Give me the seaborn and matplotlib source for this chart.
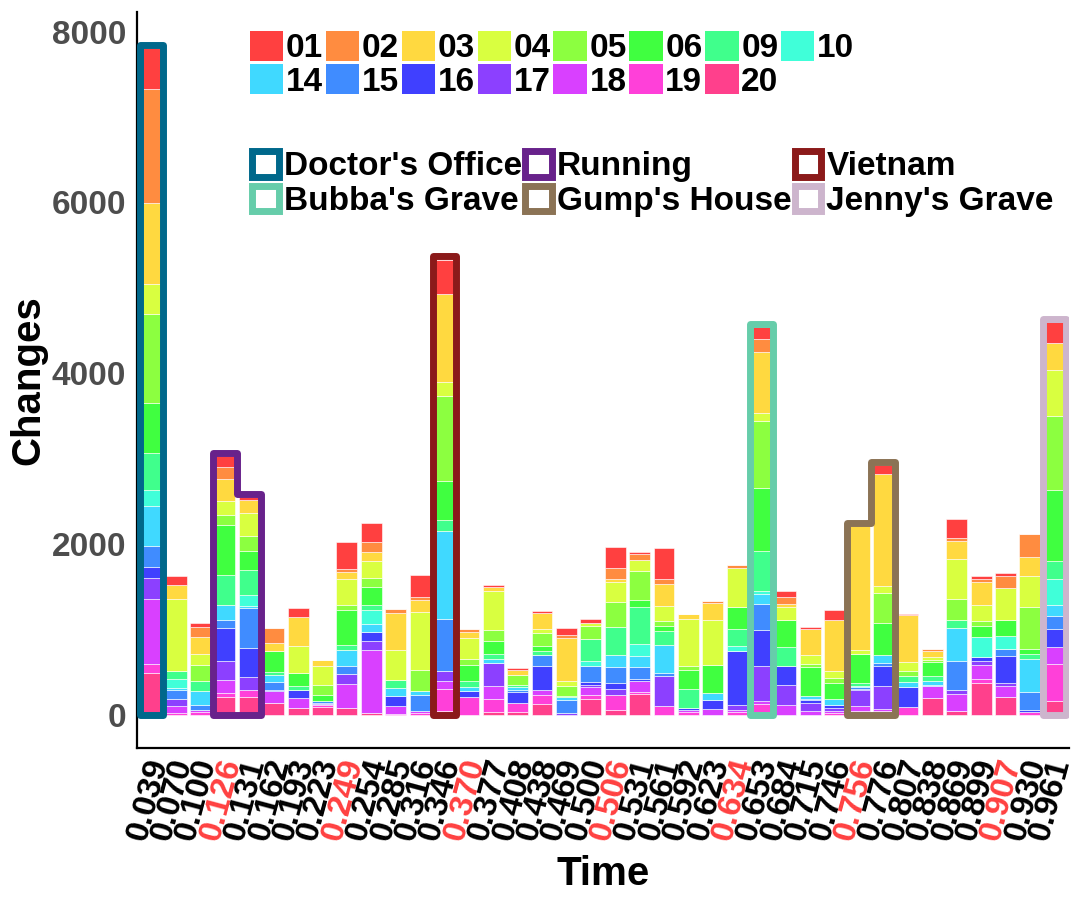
import numpy as np
import pandas as pd
import matplotlib
matplotlib.use("Agg")
import matplotlib.pyplot as plt
import seaborn as sns
from matplotlib.patches import Polygon, Patch
from matplotlib.transforms import ScaledTranslation

# ---------------- data ----------------
times = ["0.039", "0.070", "0.100", "0.126", "0.131", "0.162", "0.193", "0.223",
         "0.249", "0.254", "0.285", "0.316", "0.346", "0.370", "0.377", "0.408",
         "0.438", "0.469", "0.500", "0.506", "0.531", "0.561", "0.592", "0.623",
         "0.634", "0.653", "0.684", "0.715", "0.746", "0.756", "0.776", "0.807",
         "0.838", "0.869", "0.899", "0.907", "0.930", "0.961"]
red_times = ["0.126", "0.249", "0.370", "0.506", "0.634", "0.756", "0.907"]

series_names = ["01", "02", "03", "04", "05", "06", "09", "10",
                "14", "15", "16", "17", "18", "19", "20"]

s01 = [477, 105, 50, 125, 39, 0, 101, 0, 312, 222, 0, 265, 402, 0, 19, 27, 27, 78, 47,
       242, 20, 363, 0, 0, 0, 137, 78, 20, 118, 0, 102, 15, 0, 222, 39, 31, 0, 246]
s02 = [1330, 0, 113, 140, 0, 172, 0, 0, 39, 117, 47, 35, 0, 43, 0, 0, 0, 39, 0,
       128, 70, 59, 0, 31, 40, 156, 78, 0, 0, 0, 0, 0, 27, 39, 39, 145, 278, 0]
s03 = [948, 164, 196, 262, 148, 97, 336, 78, 78, 102, 430, 137, 1034, 66, 51, 51, 188, 508, 0,
       39, 0, 258, 59, 192, 0, 714, 39, 304, 597, 1452, 1308, 555, 67, 207, 262, 0, 222, 312]
s04 = [355, 843, 132, 160, 266, 0, 320, 215, 309, 203, 359, 675, 164, 246, 457, 0, 47, 50, 31,
       230, 129, 183, 558, 534, 456, 90, 152, 106, 86, 42, 86, 98, 31, 469, 195, 371, 363, 539]
s05 = [1038, 0, 188, 113, 176, 0, 0, 125, 58, 109, 0, 254, 996, 75, 128, 117, 156, 118, 156,
       293, 339, 59, 47, 0, 0, 789, 0, 43, 58, 0, 351, 66, 31, 242, 59, 0, 484, 866]
s06 = [594, 0, 0, 586, 222, 242, 148, 70, 410, 207, 0, 0, 449, 179, 149, 0, 58, 19, 0,
       0, 90, 58, 215, 324, 254, 734, 313, 339, 184, 340, 379, 0, 156, 0, 129, 187, 63, 839]
s09 = [429, 86, 121, 355, 293, 32, 55, 0, 51, 55, 90, 0, 136, 78, 58, 27, 39, 0, 262,
       324, 430, 156, 226, 0, 207, 468, 218, 0, 0, 31, 0, 70, 67, 97, 0, 0, 58, 207]
s10 = [185, 110, 0, 0, 136, 0, 0, 0, 0, 167, 0, 0, 0, 0, 0, 0, 0, 0, 58,
       0, 136, 0, 0, 0, 51, 39, 0, 0, 0, 0, 0, 0, 0, 0, 234, 156, 0, 301]
s14 = [472, 20, 164, 179, 14, 85, 0, 0, 187, 98, 90, 39, 1023, 47, 47, 31, 0, 35, 0,
       149, 132, 332, 0, 78, 0, 113, 0, 28, 78, 20, 90, 59, 39, 391, 0, 0, 391, 137]
s15 = [244, 110, 50, 86, 478, 90, 0, 15, 98, 0, 0, 195, 617, 0, 0, 32, 129, 148, 187,
       183, 141, 31, 0, 0, 0, 305, 0, 15, 0, 15, 39, 0, 19, 331, 0, 86, 210, 144]
s16 = [132, 0, 0, 387, 340, 20, 86, 15, 0, 101, 117, 0, 0, 70, 0, 124, 289, 0, 28,
       70, 20, 0, 27, 110, 640, 421, 223, 35, 35, 12, 226, 230, 0, 0, 47, 312, 24, 214]
s17 = [249, 78, 0, 222, 144, 0, 0, 0, 117, 102, 0, 0, 117, 0, 265, 0, 0, 20, 27,
       67, 0, 359, 0, 0, 50, 410, 234, 98, 35, 195, 273, 0, 0, 51, 39, 39, 0, 0]
s18 = [752, 85, 30, 156, 0, 136, 121, 10, 281, 741, 93, 20, 89, 0, 157, 0, 51, 0, 90,
       0, 132, 0, 20, 66, 30, 39, 117, 39, 20, 59, 20, 0, 137, 195, 167, 125, 0, 200]
s19 = [112, 20, 29, 51, 86, 0, 0, 20, 0, 0, 12, 19, 262, 203, 156, 110, 109, 0, 51,
       175, 20, 98, 31, 0, 29, 94, 0, 0, 19, 39, 19, 90, 0, 0, 47, 0, 27, 429]
s20 = [487, 0, 0, 203, 207, 137, 78, 96, 78, 20, 0, 0, 39, 0, 27, 27, 125, 0, 183,
       59, 246, 0, 0, 0, 0, 31, 0, 0, 0, 0, 27, 0, 195, 47, 371, 207, 0, 164]

series_values = [s01, s02, s03, s04, s05, s06, s09, s10, s14, s15, s16, s17, s18, s19, s20]

series_colors = ["#FF4040", "#FF8C40", "#FFD940", "#D9FF40", "#8CFF40", "#40FF40",
                 "#40FF8C", "#40FFD9", "#40D9FF", "#408CFF", "#4040FF", "#8C40FF",
                 "#D940FF", "#FF40D9", "#FF408C"]

regions = ["Doctor's Office", "Running", "Vietnam",
           "Bubba's Grave", "Gump's House", "Jenny's Grave"]
region_colors = ["#00688B", "#68228B", "#8B1A1A", "#66CDAA", "#8B7355", "#CDB5CD"]
region_times = [["0.039"], ["0.126", "0.131"], ["0.346"],
                ["0.653"], ["0.756", "0.776"], ["0.961"]]

# ---------------- frame ----------------
rows = []
for name, vals in zip(series_names, series_values):
    for i, v in enumerate(vals):
        rows.append({"pos": i, "series": name, "value": v})
df = pd.DataFrame(rows)
totals = df.groupby("pos")["value"].sum().reindex(range(len(times))).values

# ---------------- style ----------------
sns.set_style("white")
plt.rcParams["font.family"] = ["Liberation Sans", "DejaVu Sans"]
plt.rcParams["font.weight"] = "bold"
plt.rcParams["text.color"] = "black"

fig = plt.figure(figsize=(10.8, 9), dpi=100)
ax = fig.add_axes([137 / 1080, 1 - 748 / 900, 932 / 1080, 736 / 900])

sns.histplot(data=df, x="pos", hue="series", weights="value",
             multiple="stack", discrete=True, shrink=0.86,
             hue_order=series_names, palette=series_colors,
             edgecolor="white", linewidth=0.4, alpha=1, legend=False, ax=ax)

# region outlines
hw = 0.48
pad = 40
for name, col, tlist in zip(regions, region_colors, region_times):
    idx = [times.index(t) for t in tlist]
    pts = [(idx[0] - hw, 0), (idx[0] - hw, totals[idx[0]] + pad)]
    for k, i in enumerate(idx):
        right = i + hw if k == len(idx) - 1 else i + 0.5
        pts.append((right, totals[i] + pad))
        if k < len(idx) - 1:
            pts.append((right, totals[idx[k + 1]] + pad))
    pts.append((idx[-1] + hw, 0))
    ax.add_patch(Polygon(pts, closed=True, fill=False, edgecolor=col,
                         linewidth=5, joinstyle="round", zorder=5))

ax.set_xlim(-0.6, len(times) - 0.4)
ax.set_ylim(-390, 8230)
ax.set_yticks([0, 2000, 4000, 6000, 8000])
ax.set_xticks(range(len(times)))
ax.set_xticklabels([""] * len(times))

# x tick labels as rotated texts (allows a small offset like the reference)
lab_tf = ax.get_xaxis_transform() + ScaledTranslation(5 / 72, -8 / 72, fig.dpi_scale_trans)
for i, t in enumerate(times):
    ax.text(i, 0, t, transform=lab_tf, rotation=75, ha="right", va="center",
            rotation_mode="anchor", fontsize=24, fontweight="bold",
            color="#FF4040" if t in red_times else "black", clip_on=False)

for lab in ax.get_yticklabels():
    lab.set_fontsize(24)
    lab.set_fontweight("bold")
    lab.set_color("#4D4D4D")

ax.tick_params(axis="both", length=5, width=1.2, color="#333333", pad=3)
for s in ["top", "right"]:
    ax.spines[s].set_visible(False)
for s in ["left", "bottom"]:
    ax.spines[s].set_color("black")
    ax.spines[s].set_linewidth(1.6)

ax.set_xlabel("Time", fontsize=29, fontweight="bold", labelpad=0, color="black")
ax.xaxis.set_label_coords(0.5, -0.146)
ax.set_ylabel("Changes", fontsize=29, fontweight="bold", labelpad=3, color="black")

# legends (matplotlib fills legend columns first -> interleave rows)
ncol1 = 8
row2 = series_names[ncol1:]
order1 = []
for c in range(ncol1):
    order1.append(c)
    if c < len(row2):
        order1.append(ncol1 + c)
h1 = [Patch(facecolor=series_colors[i], edgecolor="none") for i in order1]
leg1 = fig.legend(h1, [series_names[i] for i in order1], loc="upper left",
                  bbox_to_anchor=(250 / 1080, 1 - 31 / 900), ncol=ncol1,
                  frameon=False, fontsize=24, handlelength=1.0, handleheight=1.0,
                  handletextpad=0.08, columnspacing=0.08, labelspacing=0.0,
                  borderpad=0, borderaxespad=0)
for t in leg1.get_texts():
    t.set_fontweight("bold")
    t.set_color("black")

order2 = [0, 3, 1, 4, 2, 5]
h2 = [Patch(facecolor="white", edgecolor=region_colors[i], linewidth=5) for i in order2]
leg2 = fig.legend(h2, [regions[i] for i in order2], loc="upper left",
                  bbox_to_anchor=(252 / 1080, 1 - 151 / 900), ncol=3,
                  frameon=False, fontsize=24, handlelength=0.8, handleheight=0.8,
                  handletextpad=0.15, columnspacing=0.1, labelspacing=0.1,
                  borderpad=0, borderaxespad=0)
for t in leg2.get_texts():
    t.set_fontweight("bold")
    t.set_color("black")

fig.savefig("out.png", dpi=100)
